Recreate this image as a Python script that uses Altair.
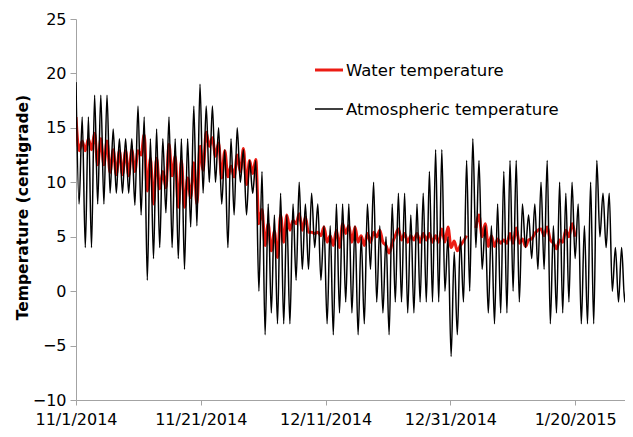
import altair as alt
import pandas as pd

# ---------------- data ----------------
# Atmospheric temperature: daily maximum / minimum, one pair per day from 11/1/2014
atm_highs = [19.2, 16, 16, 18, 18, 18, 14.9, 14, 14, 14, 17, 16, 14, 14.9, 14,
             16, 14, 14, 14, 17, 19, 17, 17, 15, 13, 14, 15, 13, 12, 12,
             11, 8, 7, 9, 7, 8, 10, 8, 9, 8, 6, 6, 8, 8, 8,
             6, 5, 8, 10, 6, 5, 8, 9, 9, 7, 8, 9, 11, 13, 13,
             5, 3.6, 5, 12, 14, 12, 6, 6, 8, 11, 12, 12, 8, 7, 8,
             10, 12, 6, 10, 9, 10, 8, 6, 10, 12, 9, 9, 4, 4, 3]
atm_lows = [8, 4, 4, 8, 8, 9, 9, 9, 9, 7.9, 7, 1, 3, 4, 7.2,
            4, 3, 2, 5.9, 6, 9, 10, 10, 8, 4, 7, 10, 7, 9, 0,
            -4, -2, -3, -3, -3, 1, 2, 2, 4, 1, -3, -4, -2, -1, -2,
            -4, -3, 2, -1, -2, -4, -1, -1, -2, -2, -1, -1, -1, -1, 0,
            -6, -4, -1, 0, 4, 2, -2, -3, -2, -2, 0, -1, 4, 3, 2,
            2, -3, -2, -2, -1, 3, -3, -3, -3, 5, 4, 0, -1, -1, -2]

# Water temperature, first record (days 0-63): daily high / low
water_highs_1 = [16, 13.8, 14, 14.5, 14, 13.8, 13, 12.9, 12.9, 13, 12.9, 14.4, 12.2, 12.2, 11,
                 13.5, 12.4, 12, 10.4, 11.8, 13.3, 14.6, 14.1, 13.6, 12.9, 11.5, 12.5, 13.1, 12.0, 12.1,
                 7.5, 6.2, 5.5, 7, 7, 6.5, 7.1, 6.8, 5.4, 5.4, 5.9, 5.1, 5.6, 6.2, 6.0,
                 5.9, 5.1, 5.3, 5.4, 5.6, 4.2, 4.4, 5.7, 5.3, 5.1, 5.3, 5.3, 5.3, 5.1, 5.7,
                 5.9, 4.6, 4.2, 5.1]
water_lows_1 = [12.9, 12.9, 13, 11.6, 11.6, 10.9, 10.7, 10.7, 10.6, 11.0, 12.5, 9.2, 8.0, 9.4, 9.5,
                10.6, 7.7, 7.7, 8.6, 8.0, 11.1, 13.3, 12.4, 10.4, 10.5, 10.5, 11, 9.8, 10.8, 6.2,
                4.2, 3.7, 3.1, 4.5, 5.6, 6.2, 5.6, 5.4, 5.3, 5.1, 4.5, 4.2, 4.0, 5.3, 4.5,
                4.5, 4.2, 4.5, 5.0, 4.5, 3.5, 5.1, 4.7, 4.5, 4.7, 4.5, 4.7, 4.5, 4.5, 4.5,
                4.0, 3.7, 4.6]
# Water temperature, second record (after the gap, days 64-80)
water_lows_2 = [5.8, 5.0, 4.1, 4.1, 4.4, 4.4, 4.4, 4.4, 4.1, 4.8, 5.6, 5.1, 4.7, 3.9, 4.5, 5.0, 5.0]
water_highs_2 = [7.0, 6.2, 5.1, 4.8, 4.7, 5.3, 5.8, 4.8, 4.7, 5.3, 5.7, 5.9, 4.4, 4.7, 5.6, 6.2]

tick_days = [0, 20, 40, 60, 80]
tick_labels = ["11/1/2014", "11/21/2014", "12/11/2014", "12/31/2014", "1/20/2015"]
y_ticks = [-10, -5, 0, 5, 10, 15, 20, 25]
series_names = ["Water temperature", "Atmospheric temperature"]

HALF = 0.4968  # spacing between successive readings, in days

# ---------------- tables ----------------
atm_rows = []
for k in range(len(atm_highs)):
    atm_rows.append({"day": 2 * k * HALF, "temp": atm_highs[k]})
    atm_rows.append({"day": (2 * k + 1) * HALF, "temp": atm_lows[k]})
atm_df = pd.DataFrame(atm_rows)

w_rows = []
for k in range(len(water_highs_1)):
    w_rows.append({"day": 2 * k * HALF, "temp": water_highs_1[k], "seg": 1})
    if k < len(water_lows_1):
        w_rows.append({"day": (2 * k + 1) * HALF, "temp": water_lows_1[k], "seg": 1})
w_rows.append({"day": (2 * 64 + 1) * HALF, "temp": water_lows_2[0], "seg": 2})
for j in range(len(water_highs_2)):
    k = 65 + j
    w_rows.append({"day": 2 * k * HALF, "temp": water_highs_2[j], "seg": 2})
    w_rows.append({"day": (2 * k + 1) * HALF, "temp": water_lows_2[j + 1], "seg": 2})
water_df = pd.DataFrame(w_rows)

# ---------------- styling ----------------
FONT = "DejaVu Sans"
GRAY = "#a3a3a3"
RED = "#ec1c14"

label_expr = " : ".join(
    f"datum.value == {d} ? '{l}'" for d, l in zip(tick_days, tick_labels)
) + " : ''"

x_scale = alt.Scale(domain=[0, 87.98], nice=False, zero=False)
y_scale = alt.Scale(domain=[-10, 25], nice=False, zero=False)

x_axis = alt.Axis(values=tick_days, labelExpr=label_expr, grid=False, title=None,
                  domainColor=GRAY, tickColor=GRAY, tickSize=5, labelPadding=6,
                  labelFont=FONT, labelFontSize=16, labelColor="black",
                  labelFlush=False, labelOverlap=False)
y_axis = alt.Axis(values=y_ticks, grid=False, domainColor=GRAY, tickColor=GRAY,
                  tickSize=6, labelPadding=4, labelFont=FONT, labelFontSize=16,
                  labelColor="black", labelOverlap=False,
                  title="Temperature (centigrade)", titleFont=FONT, titleFontSize=15.5,
                  titleFontWeight="bold", titleColor="black", titleAngle=270,
                  titleX=-54, titleY=188, titleAlign="center", titleBaseline="middle")

water = alt.Chart(water_df).mark_line(
    color=RED, strokeWidth=3, interpolate="monotone", clip=True
).encode(
    x=alt.X("day:Q", scale=x_scale, axis=x_axis),
    y=alt.Y("temp:Q", scale=y_scale, axis=y_axis),
    detail="seg:N",
)

atm = alt.Chart(atm_df).mark_line(
    color="black", strokeWidth=1.5, interpolate="monotone", clip=True
).encode(
    x=alt.X("day:Q", scale=x_scale),
    y=alt.Y("temp:Q", scale=y_scale),
)

# ---------------- legend (inside the plot, top right) ----------------
leg_df = pd.DataFrame({"name": series_names})
leg_red_line = alt.Chart(leg_df).transform_filter(alt.datum.name == series_names[0]).mark_rule(
    color=RED, strokeWidth=3).encode(x=alt.value(239), x2=alt.value(267), y=alt.value(51))
leg_blk_line = alt.Chart(leg_df).transform_filter(alt.datum.name == series_names[1]).mark_rule(
    color="black", strokeWidth=1.5).encode(x=alt.value(239), x2=alt.value(267), y=alt.value(90))
leg_red_text = alt.Chart(leg_df).transform_filter(alt.datum.name == series_names[0]).mark_text(
    align="left", baseline="middle", font=FONT, fontSize=16.5, color="black").encode(
    x=alt.value(270), y=alt.value(52), text="name:N")
leg_blk_text = alt.Chart(leg_df).transform_filter(alt.datum.name == series_names[1]).mark_text(
    align="left", baseline="middle", font=FONT, fontSize=16.5, color="black").encode(
    x=alt.value(270), y=alt.value(91), text="name:N")

chart = alt.layer(
    water, atm, leg_red_line, leg_blk_line, leg_red_text, leg_blk_text
).properties(
    width=549, height=381,
    padding={"left": 68, "top": 11, "right": 0, "bottom": 28},
    autosize=alt.AutoSizeParams(type="none"),
    background="white",
).configure_view(stroke=None)

chart.save("out.html", embed_options={"renderer": "svg", "actions": False})
